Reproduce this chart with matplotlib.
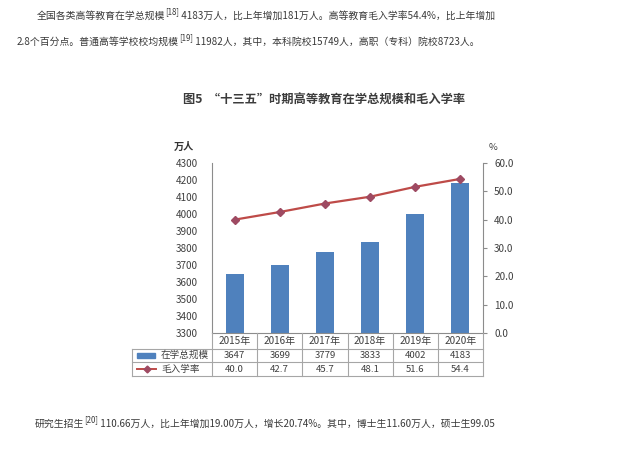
import matplotlib
matplotlib.use('Agg')
import matplotlib.pyplot as plt
from matplotlib.lines import Line2D
from matplotlib.patches import Rectangle

plt.rcParams['font.family'] = ['Noto Sans CJK SC', 'DejaVu Sans']

# ---------------- data ----------------
years = ['2015年', '2016年', '2017年', '2018年', '2019年', '2020年']
enrollment = [3647, 3699, 3779, 3833, 4002, 4183]          # 万人
gross_rate = [40.0, 42.7, 45.7, 48.1, 51.6, 54.4]          # %
enroll_label = ['3647', '3699', '3779', '3833', '4002', '4183']
rate_label = ['40.0', '42.7', '45.7', '48.1', '51.6', '54.4']
left_ticks = [3300, 3400, 3500, 3600, 3700, 3800, 3900, 4000, 4100, 4200, 4300]
right_ticks = [0, 10, 20, 30, 40, 50, 60]
series_names = ['在学总规模', '毛入学率']
left_unit = '万人'
right_unit = '%'
title = '图5  “十三五”时期高等教育在学总规模和毛入学率'
para1_a = '全国各类高等教育在学总规模'
para1_sup = '[18]'
para1_b = ' 4183万人，比上年增加181万人。高等教育毛入学率54.4%，比上年增加'
para2_a = '2.8个百分点。普通高等学校校均规模'
para2_sup = '[19]'
para2_b = ' 11982人，其中，本科院校15749人，高职（专科）院校8723人。'
para3_a = '研究生招生'
para3_sup = '[20]'
para3_b = ' 110.66万人，比上年增加19.00万人，增长20.74%。其中，博士生11.60万人，硕士生99.05'

# ---------------- style ----------------
W, H = 640, 449
BAR = '#4F81BD'
LINE = '#BE4B48'
MARK = '#9E4A62'
AXC = '#8C8C8C'
TXT = '#404040'
PTXT = '#3A3A3A'

fig = plt.figure(figsize=(W / 100, H / 100), dpi=100)
fig.patch.set_facecolor('white')


def fx(px):
    return px / W


def fy(py):
    return 1 - py / H


L, R, T, B = 212, 483, 163, 333
ax = fig.add_axes([fx(L), fy(B), fx(R) - fx(L), fy(T) - fy(B)])
ax2 = ax.twinx()

n = len(years)
xs = list(range(n))
ax.bar(xs, enrollment, width=0.4, color=BAR, zorder=2)
ax.set_xlim(-0.5, n - 0.5)
ax.set_ylim(left_ticks[0], left_ticks[-1])
ax.set_yticks(left_ticks)
ax.set_yticklabels([str(v) for v in left_ticks])
ax.set_xticks([])
ax.tick_params(axis='y', length=0, pad=10, labelsize=7.2, labelcolor=TXT)

ax2.plot(xs, gross_rate, color=LINE, lw=1.6, marker='D', markersize=4.5,
         markerfacecolor=MARK, markeredgecolor=MARK, zorder=3)
ax2.set_ylim(right_ticks[0], right_ticks[-1])
ax2.set_yticks(right_ticks)
ax2.set_yticklabels(['%.1f' % v for v in right_ticks])
ax2.tick_params(axis='y', length=3, width=0.8, color=AXC, pad=5, labelsize=7.2, labelcolor=TXT)

for a in (ax, ax2):
    a.spines['top'].set_visible(False)
    for s in ('left', 'right', 'bottom'):
        a.spines[s].set_color(AXC)
        a.spines[s].set_linewidth(0.8)
ax.spines['right'].set_visible(False)
ax2.spines['left'].set_visible(False)
ax2.spines['bottom'].set_visible(False)

# units
fig.text(fx(184), fy(147), left_unit, ha='center', va='center', fontsize=7.3,
         fontweight='bold', color='#333333')
fig.text(fx(493), fy(148), right_unit, ha='center', va='center', fontsize=6.8,
         color=TXT)

# ---------------- data table ----------------
TL = 132
r1, r2, r3 = 349, 362, 376
colw = (R - L) / n
GRID = '#A6A6A6'


def hline(x0, x1, y):
    fig.add_artist(Line2D([fx(x0), fx(x1)], [fy(y), fy(y)], color=GRID, lw=0.8,
                          transform=fig.transFigure))


def vline(x, y0, y1):
    fig.add_artist(Line2D([fx(x), fx(x)], [fy(y0), fy(y1)], color=GRID, lw=0.8,
                          transform=fig.transFigure))


for y in (r1, r2, r3):
    hline(TL, R, y)
vline(TL, r1, r3)
for i in range(n + 1):
    vline(L + i * colw, B, r3)

for i in range(n):
    cx = L + (i + 0.5) * colw
    fig.text(fx(cx), fy((B + r1) / 2), years[i], ha='center', va='center',
             fontsize=7.2, color=TXT)
    fig.text(fx(cx), fy((r1 + r2) / 2 + 0.5), enroll_label[i], ha='center', va='center',
             fontsize=6.9, color=TXT)
    fig.text(fx(cx), fy((r2 + r3) / 2 + 0.5), rate_label[i], ha='center', va='center',
             fontsize=6.9, color=TXT)

# legend keys
fig.add_artist(Rectangle((fx(137), fy(358)), fx(155) - fx(137), fy(353) - fy(358),
                         color=BAR, transform=fig.transFigure))
ym = (r2 + r3) / 2
fig.add_artist(Line2D([fx(137), fx(156)], [fy(ym), fy(ym)], color=LINE, lw=1.4,
                      transform=fig.transFigure))
fig.add_artist(Line2D([fx(146.5)], [fy(ym)], marker='D', markersize=3.5, color=MARK,
                      transform=fig.transFigure))
fig.text(fx(161), fy((r1 + r2) / 2), series_names[0], ha='left', va='center',
         fontsize=6.9, color=TXT)
fig.text(fx(161), fy(ym), series_names[1], ha='left', va='center',
         fontsize=6.9, color=TXT)

# ---------------- title ----------------
fig.text(fx(183), fy(100), title, ha='left', va='center', fontsize=8.8,
         fontweight='bold', color='#3C3C3C')

# ---------------- paragraphs ----------------
renderer = fig.canvas.get_renderer()


def run_text(x, y, parts, size=7.1):
    for s, sup in parts:
        fsz = size * 0.8 if sup else size
        yy = y - 4 if sup else y
        t = fig.text(fx(x), fy(yy), s, ha='left', va='center', fontsize=fsz, color=PTXT)
        bb = t.get_window_extent(renderer)
        x += bb.width


run_text(37, 16, [(para1_a, False), (para1_sup, True), (para1_b, False)])
run_text(17, 42, [(para2_a, False), (para2_sup, True), (para2_b, False)])
run_text(35, 424, [(para3_a, False), (para3_sup, True), (para3_b, False)])

fig.savefig('out.png', dpi=100, facecolor='white')
